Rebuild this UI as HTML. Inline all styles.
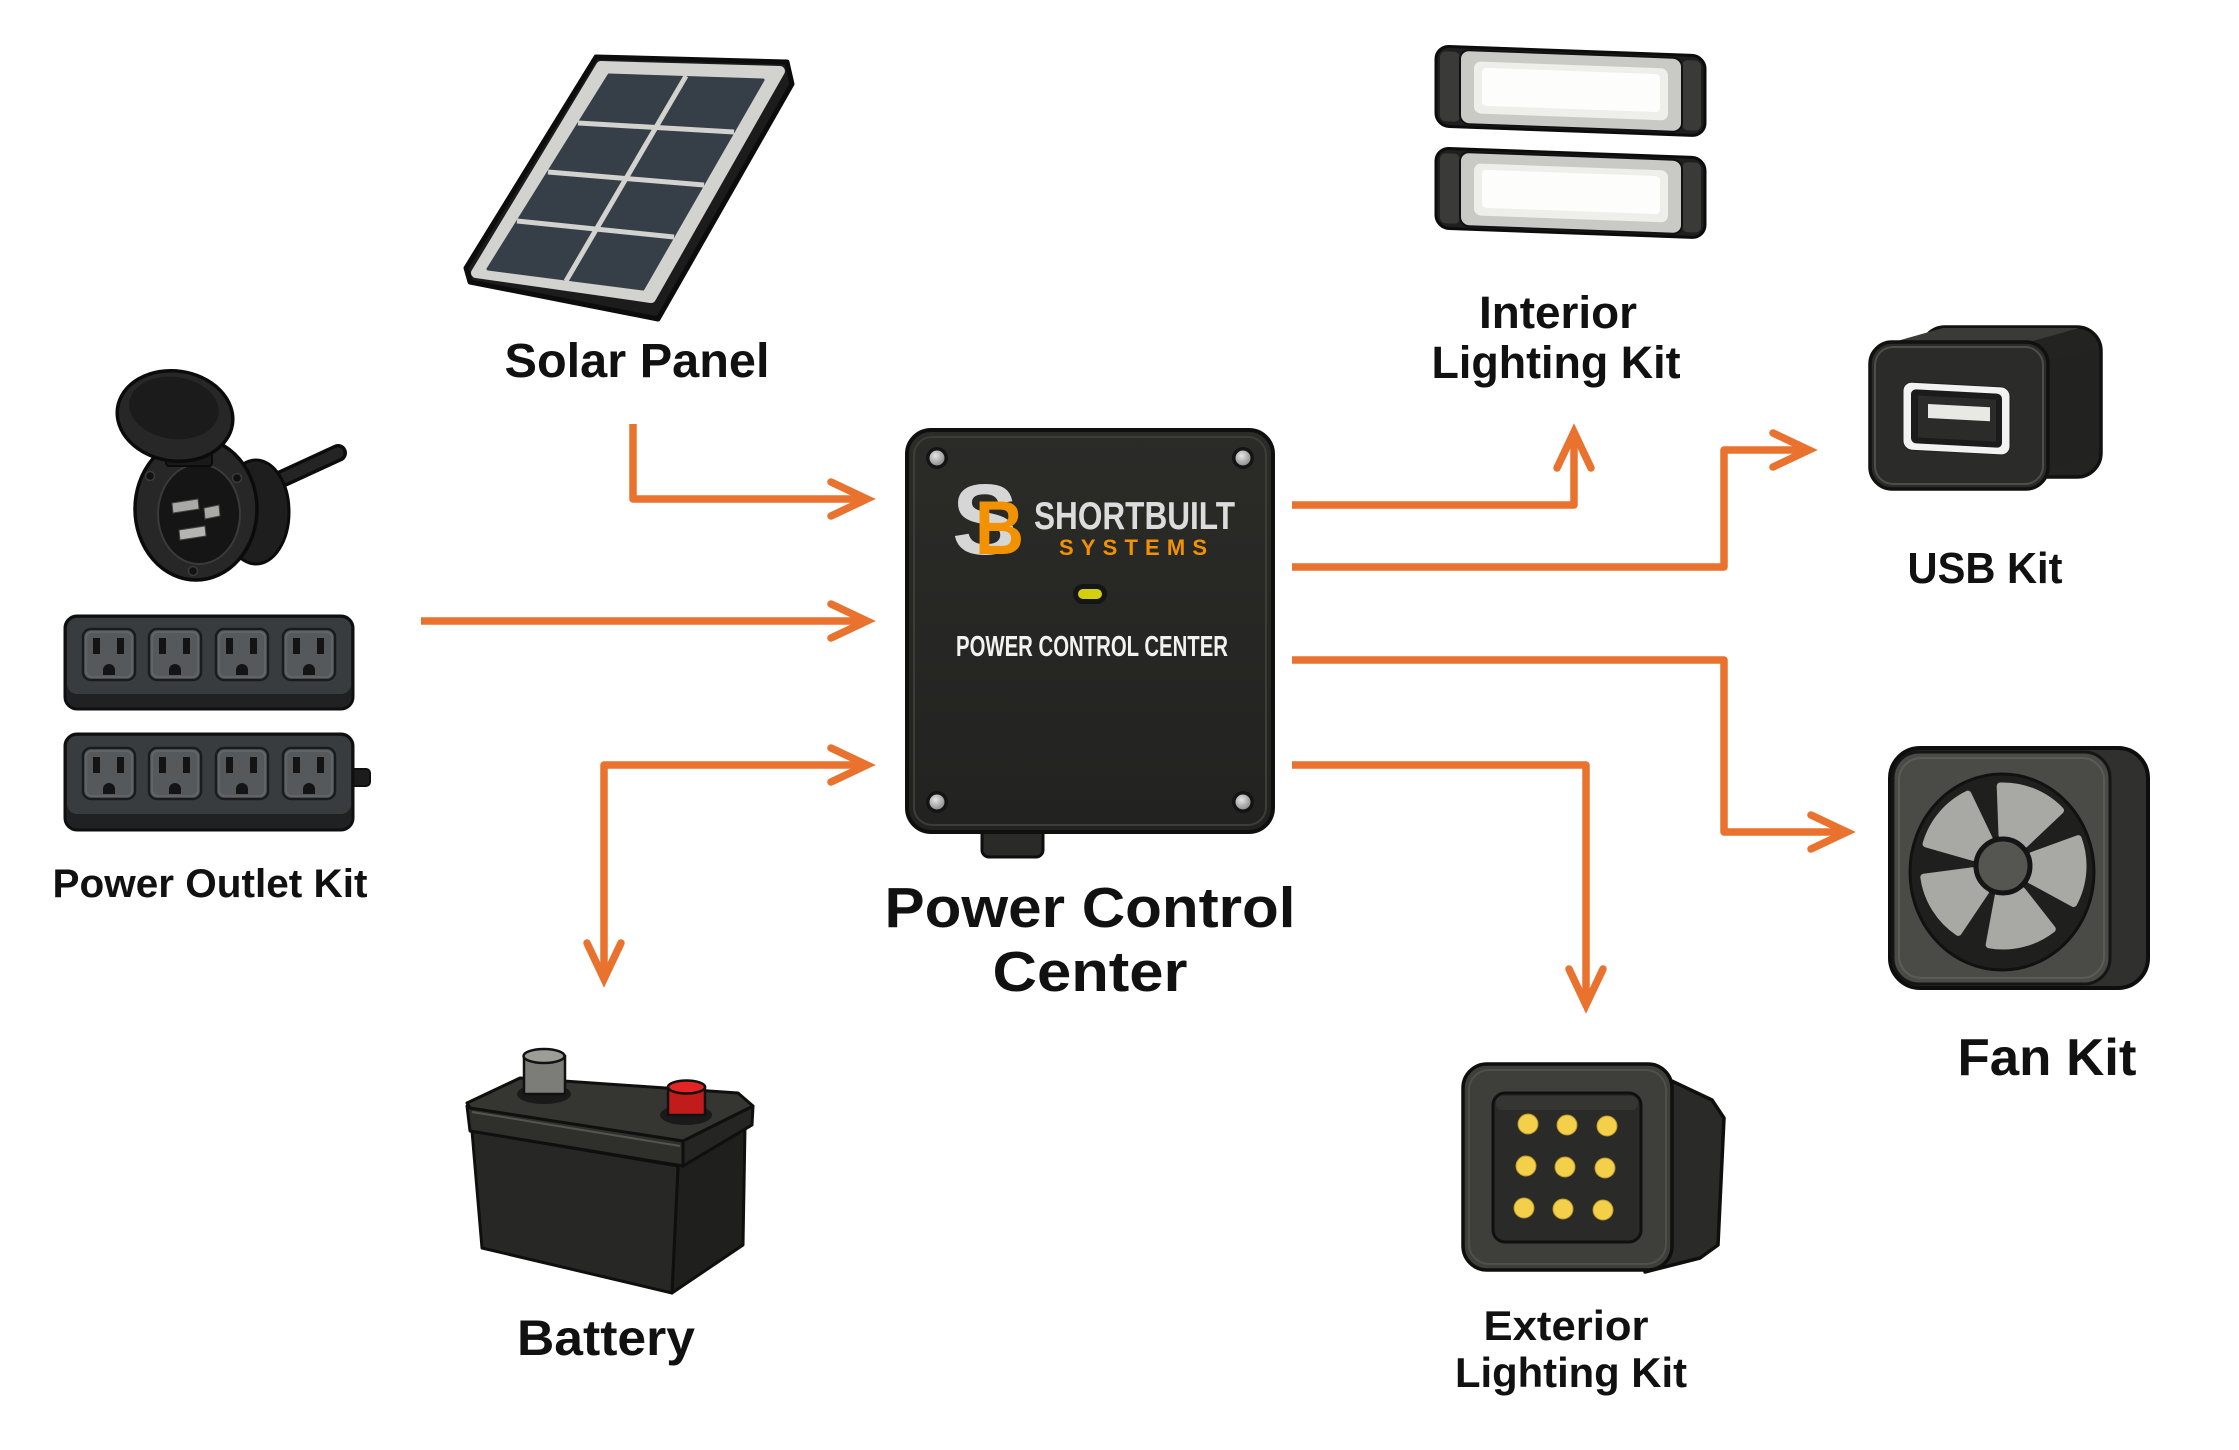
<!DOCTYPE html>
<html>
<head>
<meta charset="utf-8">
<style>
  html,body{margin:0;padding:0;background:#ffffff;}
  svg{display:block;}
  text{font-family:"Liberation Sans", Arial, sans-serif;font-weight:bold;}
</style>
</head>
<body>
<svg width="2239" height="1450" viewBox="0 0 2239 1450" xmlns="http://www.w3.org/2000/svg">
  <defs>
    <linearGradient id="pccg" x1="0" y1="0" x2="0" y2="1">
      <stop offset="0" stop-color="#2b2b28"/>
      <stop offset="1" stop-color="#222220"/>
    </linearGradient>
    <radialGradient id="screw" cx="0.4" cy="0.35" r="0.7">
      <stop offset="0" stop-color="#e6e6e6"/>
      <stop offset="1" stop-color="#8a8a8a"/>
    </radialGradient>
    <g id="outlet">
      <rect x="0" y="0" width="52" height="51" rx="8" fill="#56595c" stroke="#1a1b1c" stroke-width="2.5"/>
      <rect x="3" y="3" width="46" height="45" rx="6" fill="none" stroke="#65686b" stroke-width="1.5"/>
      <rect x="10" y="9" width="7" height="16" fill="#141414"/>
      <rect x="34" y="9" width="7" height="16" fill="#141414"/>
      <path d="M20,46 V41 A6,6 0 0 1 32,41 V46 Z" fill="#141414"/>
    </g>
    <g id="bar">
      <rect x="0" y="0" width="269" height="80" rx="13" fill="#1f1f1f" stroke="#0c0c0c" stroke-width="3"/>
      <rect x="4" y="5" width="20" height="70" rx="6" fill="#3a3a38"/>
      <rect x="246" y="5" width="19" height="70" rx="6" fill="#3a3a38"/>
      <rect x="24" y="3" width="222" height="74" rx="9" fill="#c9c9c5" stroke="#111" stroke-width="2"/>
      <rect x="38" y="14" width="194" height="52" rx="7" fill="#eeeeea"/>
      <rect x="46" y="20" width="178" height="38" rx="4" fill="#fdfdfb"/>
    </g>
    <path id="blade" d="M -1,-31 L -2.8,-80 A 80 80 0 0 1 57.5,-55.6 L 21.6,-21.5 Z" fill="#a8a8a4" stroke="#a8a8a4" stroke-width="7" stroke-linejoin="round"/>
  </defs>

  <rect x="0" y="0" width="2239" height="1450" fill="#ffffff"/>

  <!-- ================= CONNECTORS ================= -->
  <g fill="none" stroke="#E9722F" stroke-width="7.5" stroke-linejoin="round">
    <path d="M633,424 V499 H866"/>
    <path d="M421,621 H866"/>
    <path d="M866,765 H604 V979"/>
    <path d="M1292,505 H1574 V432"/>
    <path d="M1292,567 H1724 V450 H1809"/>
    <path d="M1292,660 H1724 V832 H1847"/>
    <path d="M1292,765 H1586 V1005"/>
  </g>
  <g fill="none" stroke="#E9722F" stroke-width="7.5" stroke-linecap="round" stroke-linejoin="miter">
    <polyline points="831,482 867,499 831,516"/>
    <polyline points="831,604 867,621 831,638"/>
    <polyline points="831,748 867,765 831,782"/>
    <polyline points="587,943 604,979 621,943"/>
    <polyline points="1557,468 1574,432 1591,468"/>
    <polyline points="1773,433 1809,450 1773,467"/>
    <polyline points="1811,815 1847,832 1811,849"/>
    <polyline points="1569,969 1586,1005 1603,969"/>
  </g>

  <!-- ================= SOLAR PANEL ================= -->
  <g>
    <polygon points="596,57 787,62 792,84 658,319 470,282 466,268" fill="#1c1c1c" stroke="#0c0c0c" stroke-width="5" stroke-linejoin="round"/>
    <polygon points="601,66 780,71 651,298 476,273" fill="#d2d2cf" stroke="#d2d2cf" stroke-width="10" stroke-linejoin="round"/>
    <polygon points="609,75 763,80 643,289 488,269" fill="#363e47" stroke="#363e47" stroke-width="3" stroke-linejoin="round"/>
    <g stroke="#d2d2cf" stroke-width="5" fill="none">
      <line x1="686" y1="76" x2="566" y2="281"/>
      <line x1="578" y1="123" x2="734" y2="132"/>
      <line x1="548" y1="172" x2="704" y2="185"/>
      <line x1="517" y1="221" x2="674" y2="237"/>
    </g>
  </g>
  <text x="637" y="377" font-size="48" fill="#111" text-anchor="middle" textLength="265" lengthAdjust="spacingAndGlyphs">Solar Panel</text>

  <!-- ================= POWER INLET ================= -->
  <g>
    <path d="M275,482 L338,453" stroke="#0c0c0c" stroke-width="18" stroke-linecap="round"/>
    <path d="M275,482 L338,453" stroke="#242424" stroke-width="11" stroke-linecap="round"/>
    <ellipse cx="256" cy="512" rx="33" ry="52" fill="#1e1e1e" stroke="#0b0b0b" stroke-width="3"/>
    <ellipse cx="196" cy="509" rx="61" ry="71" fill="#272727" stroke="#0b0b0b" stroke-width="3.5"/>
    <ellipse cx="199" cy="514" rx="41" ry="50" fill="#151515" stroke="#3a3a3a" stroke-width="2"/>
    <circle cx="150" cy="476" r="4.5" fill="#111" stroke="#3b3b3b" stroke-width="1.5"/>
    <circle cx="237" cy="478" r="4.5" fill="#111" stroke="#3b3b3b" stroke-width="1.5"/>
    <circle cx="193" cy="571" r="4.5" fill="#111" stroke="#3b3b3b" stroke-width="1.5"/>
    <polygon points="172,503 198,499 199,509 173,513" fill="#a9a9a7" stroke="#444" stroke-width="1"/>
    <polygon points="204,508 219,505 220,516 205,519" fill="#a9a9a7" stroke="#444" stroke-width="1"/>
    <polygon points="179,530 205,526 206,536 180,540" fill="#b5b5b2" stroke="#444" stroke-width="1"/>
    <rect x="166" y="452" width="46" height="14" rx="3" fill="#1a1a1a" stroke="#0b0b0b" stroke-width="2"/>
    <ellipse cx="175" cy="416" rx="58" ry="45" transform="rotate(8 175 416)" fill="#272727" stroke="#0b0b0b" stroke-width="3.5"/>
    <ellipse cx="174" cy="408" rx="45" ry="31" transform="rotate(8 174 408)" fill="#1b1b1b"/>
  </g>

  <!-- ================= POWER STRIPS ================= -->
  <g>
    <rect x="65" y="616" width="288" height="93" rx="12" fill="#1f2122" stroke="#0f0f0f" stroke-width="3"/>
    <rect x="67" y="618" width="284" height="76" rx="10" fill="#393c3f"/>
    <use href="#outlet" x="83" y="629"/>
    <use href="#outlet" x="149" y="629"/>
    <use href="#outlet" x="216" y="629"/>
    <use href="#outlet" x="283" y="629"/>

    <rect x="351" y="769" width="19" height="17" rx="4" fill="#1c1c1c" stroke="#0f0f0f" stroke-width="2"/>
    <rect x="65" y="734" width="288" height="96" rx="12" fill="#1f2122" stroke="#0f0f0f" stroke-width="3"/>
    <rect x="67" y="736" width="284" height="78" rx="10" fill="#393c3f"/>
    <use href="#outlet" x="83" y="748"/>
    <use href="#outlet" x="149" y="748"/>
    <use href="#outlet" x="216" y="748"/>
    <use href="#outlet" x="283" y="748"/>
  </g>
  <text x="210" y="897" font-size="40" fill="#111" text-anchor="middle" textLength="315" lengthAdjust="spacingAndGlyphs">Power Outlet Kit</text>

  <!-- ================= POWER CONTROL CENTER ================= -->
  <g>
    <rect x="982" y="820" width="61" height="37" rx="7" fill="#2a2a28" stroke="#0e0e0e" stroke-width="3"/>
    <rect x="907" y="430" width="366" height="402" rx="24" fill="url(#pccg)" stroke="#0f0f0e" stroke-width="4"/>
    <rect x="914" y="437" width="352" height="388" rx="18" fill="none" stroke="#3d3c37" stroke-width="2"/>
    <circle cx="937" cy="458" r="11" fill="#141414"/><circle cx="937" cy="458" r="7.5" fill="url(#screw)"/>
    <circle cx="1243" cy="458" r="11" fill="#141414"/><circle cx="1243" cy="458" r="7.5" fill="url(#screw)"/>
    <circle cx="937" cy="802" r="11" fill="#141414"/><circle cx="937" cy="802" r="7.5" fill="url(#screw)"/>
    <circle cx="1243" cy="802" r="11" fill="#141414"/><circle cx="1243" cy="802" r="7.5" fill="url(#screw)"/>

    <text x="952" y="554" font-size="100" fill="#d6d6d6" textLength="66" lengthAdjust="spacingAndGlyphs">S</text>
    <text x="975" y="554" font-size="76" fill="#f39200" textLength="49" lengthAdjust="spacingAndGlyphs">B</text>
    <text x="1034" y="529" font-size="39" fill="#dcdcdc" textLength="201" lengthAdjust="spacingAndGlyphs">SHORTBUILT</text>
    <text x="1059" y="555" font-size="22" fill="#f39200" textLength="148" lengthAdjust="spacing">SYSTEMS</text>

    <rect x="1073" y="584" width="34" height="20" rx="10" fill="#151515"/>
    <rect x="1078" y="589" width="24" height="10" rx="5" fill="#d2cf10"/>

    <text x="1092" y="656" font-size="29" fill="#f2f2f2" text-anchor="middle" textLength="272" lengthAdjust="spacingAndGlyphs">POWER CONTROL CENTER</text>
  </g>
  <text x="1090" y="927" font-size="57" fill="#111" text-anchor="middle" textLength="411" lengthAdjust="spacingAndGlyphs">Power Control</text>
  <text x="1090" y="991" font-size="57" fill="#111" text-anchor="middle" textLength="195" lengthAdjust="spacingAndGlyphs">Center</text>

  <!-- ================= BATTERY ================= -->
  <g stroke="#0f0f0e" stroke-width="3" stroke-linejoin="round">
    <polygon points="678,1166 745,1127 743,1245 672,1293" fill="#1f1f1d"/>
    <polygon points="472,1131 678,1166 672,1293 482,1248" fill="#272725"/>
    <polygon points="467,1106 683,1141 683,1166 470,1131" fill="#2f2f2c"/>
    <polygon points="683,1141 753,1106 752,1125 683,1166" fill="#252523"/>
    <polygon points="467,1103 520,1078 738,1093 753,1106 683,1141 470,1108" fill="#353532"/>
  </g>
  <line x1="472" y1="1112" x2="680" y2="1146" stroke="#55554f" stroke-width="2"/>
  <g>
    <ellipse cx="544" cy="1094" rx="27" ry="10" fill="#1a1a1a"/>
    <rect x="524" y="1056" width="41" height="38" fill="#7c7c78" stroke="#111" stroke-width="2.5"/>
    <ellipse cx="544" cy="1056" rx="20.5" ry="7" fill="#9d9d98" stroke="#111" stroke-width="2.5"/>
    <ellipse cx="686" cy="1115" rx="26" ry="10" fill="#1a1a1a"/>
    <rect x="668" y="1087" width="37" height="28" fill="#c11b1b" stroke="#111" stroke-width="2.5"/>
    <ellipse cx="686.5" cy="1087" rx="18.5" ry="6.5" fill="#e52424" stroke="#111" stroke-width="2.5"/>
  </g>
  <text x="606" y="1355" font-size="50" fill="#111" text-anchor="middle" textLength="178" lengthAdjust="spacingAndGlyphs">Battery</text>

  <!-- ================= INTERIOR LIGHTS ================= -->
  <g transform="translate(1436,46) skewY(2.1)"><use href="#bar"/></g>
  <g transform="translate(1436,148) skewY(2.1)"><use href="#bar"/></g>
  <text x="1558" y="328" font-size="45" fill="#111" text-anchor="middle" textLength="158" lengthAdjust="spacingAndGlyphs">Interior</text>
  <text x="1556" y="378" font-size="45" fill="#111" text-anchor="middle" textLength="249" lengthAdjust="spacingAndGlyphs">Lighting Kit</text>

  <!-- ================= USB ================= -->
  <g stroke="#111" stroke-width="3.5" stroke-linejoin="round">
    <rect x="1921" y="327" width="180" height="150" rx="24" fill="#232321"/>
    <polygon points="1890,343 1943,328 2079,328 2026,343" fill="#3a3a37" stroke="none"/>
    <polygon points="2046,362 2099,349 2099,455 2046,470" fill="#222220" stroke="none"/>
    <rect x="1870" y="342" width="178" height="147" rx="22" fill="#2b2b29"/>
  </g>
  <rect x="1875" y="347" width="168" height="137" rx="18" fill="none" stroke="#4d4d49" stroke-width="2"/>
  <g transform="skewY(3)" >
    <rect x="1903" y="282" width="107" height="68" rx="9" fill="#f2f2f2" stroke="#222" stroke-width="1"/>
    <rect x="1911" y="289" width="91" height="54" rx="5" fill="#1b1b1b"/>
    <rect x="1918" y="295" width="78" height="42" fill="#2b2b29"/>
    <rect x="1928" y="303" width="62" height="14" fill="#e8e8e4"/>
  </g>
  <text x="1985" y="583" font-size="44" fill="#111" text-anchor="middle" textLength="155" lengthAdjust="spacingAndGlyphs">USB Kit</text>

  <!-- ================= FAN ================= -->
  <g>
    <rect x="1890" y="748" width="258" height="240" rx="30" fill="#30302e" stroke="#0e0e0e" stroke-width="4"/>
    <rect x="1893" y="752" width="217" height="232" rx="26" fill="#4a4a47" stroke="#151514" stroke-width="3"/>
    <rect x="1899" y="758" width="205" height="220" rx="22" fill="none" stroke="#5b5b58" stroke-width="2"/>
    <ellipse cx="2002" cy="872" rx="92" ry="98" fill="#1f1f1d" stroke="#111" stroke-width="3"/>
    <g transform="translate(2003,866)">
      <use href="#blade"/>
      <use href="#blade" transform="rotate(72)"/>
      <use href="#blade" transform="rotate(144)"/>
      <use href="#blade" transform="rotate(216)"/>
      <use href="#blade" transform="rotate(288)"/>
    </g>
    <circle cx="2003" cy="866" r="27" fill="#555552" stroke="#151515" stroke-width="5"/>
  </g>
  <text x="2047" y="1075" font-size="52" fill="#111" text-anchor="middle" textLength="179" lengthAdjust="spacingAndGlyphs">Fan Kit</text>

  <!-- ================= EXTERIOR LIGHT ================= -->
  <g stroke="#0f0f0e" stroke-width="3.5" stroke-linejoin="round">
    <polygon points="1638,1065 1712,1100 1724,1118 1718,1245 1700,1258 1645,1272" fill="#2a2a28"/>
    <rect x="1463" y="1064" width="209" height="206" rx="24" fill="#3e3e3b"/>
  </g>
  <rect x="1469" y="1070" width="197" height="194" rx="20" fill="none" stroke="#4f4f4b" stroke-width="2"/>
  <rect x="1493" y="1093" width="148" height="149" rx="12" fill="#2a2a28" stroke="#101010" stroke-width="3"/>
  <rect x="1496" y="1096" width="142" height="14" rx="6" fill="#353532"/>
  <g fill="#f4d04a" stroke="#b8982a" stroke-width="1">
    <circle cx="1528" cy="1124" r="10"/><circle cx="1567" cy="1125" r="10"/><circle cx="1607" cy="1126" r="10"/>
    <circle cx="1526" cy="1166" r="10"/><circle cx="1565" cy="1167" r="10"/><circle cx="1605" cy="1168" r="10"/>
    <circle cx="1524" cy="1208" r="10"/><circle cx="1563" cy="1209" r="10"/><circle cx="1603" cy="1210" r="10"/>
  </g>
  <text x="1566" y="1340" font-size="42" fill="#111" text-anchor="middle" textLength="165" lengthAdjust="spacingAndGlyphs">Exterior</text>
  <text x="1571" y="1387" font-size="42" fill="#111" text-anchor="middle" textLength="232" lengthAdjust="spacingAndGlyphs">Lighting Kit</text>
</svg>
</body>
</html>
